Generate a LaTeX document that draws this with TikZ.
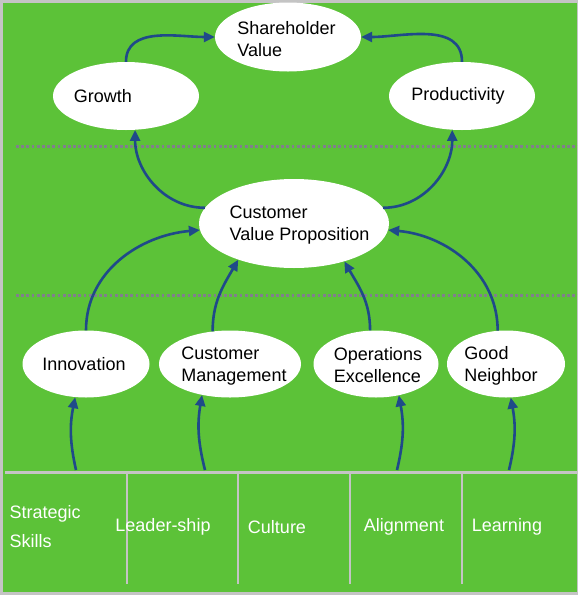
\documentclass[tikz,border=0pt]{standalone}
\usepackage{fontspec}
\setmainfont{Liberation Sans}
\usetikzlibrary{shapes.geometric,arrows.meta}
\definecolor{boardgreen}{HTML}{5CC238}
\definecolor{linkblue}{HTML}{1F4A89}
\definecolor{framegray}{HTML}{C4C4C4}
\definecolor{dotgray}{HTML}{80808C}
\begin{document}
\begin{tikzpicture}[x=1pt,y=1pt,
  goal/.style={ellipse,fill=white,inner sep=0pt},
  goaltext/.style={align=left,font=\fontsize{18}{22}\selectfont},
  link/.style={linkblue,line width=2.6pt,-{Triangle[length=11pt,width=10pt]}},
  cell/.style={white,font=\fontsize{18}{29}\selectfont,align=left},
  level/.style={dotgray,line width=3pt,dash pattern=on 2.8pt off 2.4pt}]
\useasboundingbox (0,0) rectangle (578,-595);
% board and frame
\fill[framegray] (0,0) rectangle (578,-595);
\fill[boardgreen] (3,-3) rectangle (577,-592);
\draw[level] (16,-146) -- (578,-146);
\draw[level] (16,-295) -- (578,-295);
% table of the learning and growth layer
\draw[framegray,line width=2.5pt] (5,-472.5) -- (578,-472.5);
\foreach \x in {127,238,350,462}
  \draw[framegray,line width=2pt] (\x,-472.5) -- (\x,-584);
\node[cell,anchor=west] (ss) at (6,-527) {Strategic\\Skills};
\node[cell] (ls) at (163,-527) {Leader-ship};
\node[cell] (cu) at (277,-527) {Culture};
\node[cell] (al) at (404,-527) {Alignment};
\node[cell] (le) at (507,-527) {Learning};
% goals
\node[goal,minimum width=146,minimum height=69,
  label={[goaltext,xshift=-1.5pt,yshift=-2pt]center:Shareholder\\Value}] (sv) at (288,-37) {};
\node[goal,minimum width=146,minimum height=68,
  label={[goaltext,xshift=-23pt]center:Growth}] (gr) at (126,-96) {};
\node[goal,minimum width=146,minimum height=68,
  label={[goaltext,xshift=-4pt]center:Productivity}] (pr) at (462,-96) {};
\node[goal,minimum width=190,minimum height=89,
  label={[goaltext,xshift=5.5pt,yshift=-2pt]center:Customer\\Value Proposition}] (cvp) at (294,-223.5) {};
\node[goal,minimum width=127,minimum height=67,
  label={[goaltext,xshift=-2pt]center:Innovation}] (inn) at (86,-364) {};
\node[goal,minimum width=142,minimum height=67,
  label={[goaltext,xshift=4pt,yshift=-2pt]center:Customer\\Management}] (cm) at (230,-364) {};
\node[goal,minimum width=125,minimum height=67,
  label={[goaltext,xshift=2pt,yshift=-1pt]center:Operations\\Excellence}] (oe) at (376,-364) {};
\node[goal,minimum width=118,minimum height=67,
  label={[goaltext,xshift=-5pt,yshift=-2pt]center:Good\\Neighbor}] (gn) at (506,-364) {};
% links
\draw[link] (gr.north) to[out=90,in=180] (sv.180);
\draw[link] (pr.north) to[out=90,in=0] (sv.0);
\draw[link] (cvp.170) to[out=180,in=-90] (gr.-75);
\draw[link] (cvp.10) to[out=0,in=-90] (pr.-106);
\draw[link] (inn.north) to[out=90,in=185] (cvp.184);
\draw[link] (cm.118) to[out=90,in=-120] (cvp.213);
\draw[link] (oe.100) to[out=90,in=-60] (cvp.-37);
\draw[link] (gn.104) to[out=90,in=-5] (cvp.-4);
\coordinate (b1) at (76,-470);
\coordinate (b2) at (205,-470);
\coordinate (b3) at (397,-470);
\coordinate (b4) at (509,-470);
\draw[link] (b1) to[bend left=12] (inn.-108);
\draw[link] (b2) to[bend left=12] (cm.-132);
\draw[link] (b3) to[bend right=12] (oe.-54);
\draw[link] (b4) to[bend right=12] (gn.-82);
\end{tikzpicture}
\end{document}
